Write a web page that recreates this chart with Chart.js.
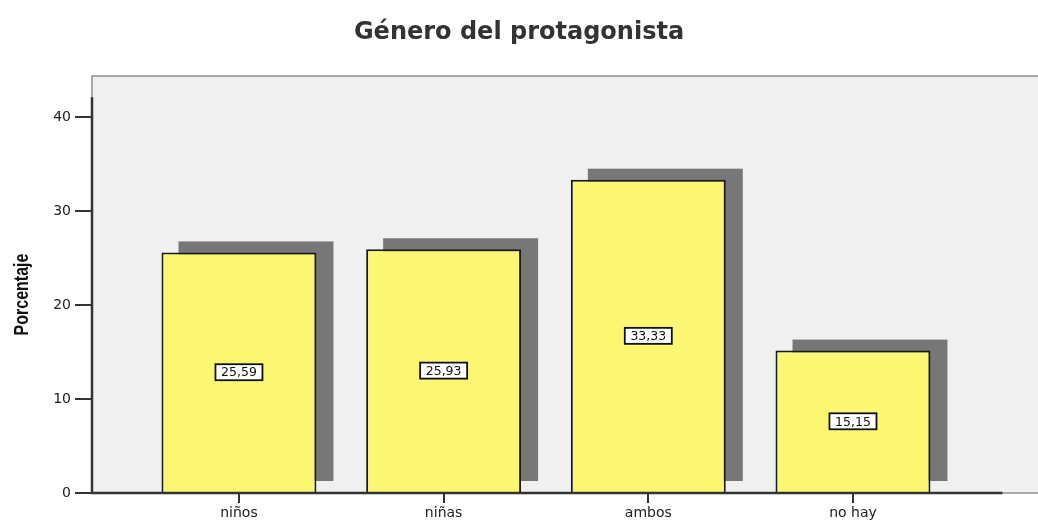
<!DOCTYPE html>
<html>
<head>
<meta charset="utf-8">
<script src="https://cdn.jsdelivr.net/npm/chart.js@4"></script>
<style>
    html, body { margin: 0; padding: 0; background: #fff; }
    #wrap { width: 1038px; height: 520px; }
</style>
</head>
<body>
<div id="wrap"><canvas id="myChart" width="1038" height="520"></canvas></div>
<script>
const categories = ['niños', 'niñas', 'ambos', 'no hay'];
const porcentajes = [25.59, 25.93, 33.33, 15.15];
const yTicks = [0, 10, 20, 30, 40];
const yTitle = 'Porcentaje';

const ctx = document.getElementById('myChart').getContext('2d');

// plot frame, bar shadows, axes and value boxes
const decor = {
    id: 'decor',
    beforeDatasetsDraw(chart) {
        const c = chart.ctx;
        const area = chart.chartArea;
        c.save();
        c.fillStyle = '#f0f0f0';
        c.fillRect(area.left, area.top, area.right - area.left, area.bottom - area.top);
        // shadow behind every bar, offset up and right
        const meta = chart.getDatasetMeta(0);
        c.fillStyle = '#777777';
        meta.data.forEach(bar => {
            const w = bar.width;
            c.fillRect(bar.x - w / 2 + 17, bar.y - 11, w, bar.base - bar.y);
        });
        c.restore();
    },
    afterDatasetsDraw(chart) {
        const c = chart.ctx;
        const area = chart.chartArea;
        const x = chart.scales.x;
        const y = chart.scales.y;
        c.save();
        c.lineCap = 'butt';
        // light frame
        c.strokeStyle = '#aaaaaa';
        c.lineWidth = 2;
        c.beginPath();
        c.moveTo(area.left, area.bottom);
        c.lineTo(area.left, area.top);
        c.lineTo(area.right, area.top);
        c.moveTo(area.left, area.bottom);
        c.lineTo(area.right, area.bottom);
        c.stroke();
        // dark axis lines
        c.strokeStyle = '#333333';
        c.lineWidth = 2.5;
        c.beginPath();
        c.moveTo(area.left, y.getPixelForValue(42.1));
        c.lineTo(area.left, area.bottom);
        c.lineTo(x.getPixelForValue(3.73), area.bottom);
        c.stroke();

        // value boxes
        const meta = chart.getDatasetMeta(0);
        c.font = '12.5px "DejaVu Sans"';
        c.textAlign = 'center';
        c.textBaseline = 'middle';
        meta.data.forEach((bar, i) => {
            const txt = porcentajes[i].toFixed(2).replace('.', ',');
            const cy = (bar.y + bar.base) / 2;
            const bw = 47, bh = 16;
            c.fillStyle = '#ffffff';
            c.fillRect(bar.x - bw / 2, cy - bh / 2, bw, bh);
            c.strokeStyle = '#111111';
            c.lineWidth = 1.8;
            c.strokeRect(bar.x - bw / 2, cy - bh / 2, bw, bh);
            c.fillStyle = '#111111';
            c.fillText(txt, bar.x, cy + 1);
        });
        c.restore();
    },
    afterDraw(chart) {
        // condensed bold y-axis title
        const c = chart.ctx;
        const area = chart.chartArea;
        c.save();
        c.translate(22.5, (area.top + area.bottom) / 2 + 10);
        c.rotate(-Math.PI / 2);
        c.scale(0.8, 1);
        c.font = 'bold 20px "Liberation Sans"';
        c.fillStyle = '#111111';
        c.textAlign = 'center';
        c.textBaseline = 'middle';
        c.fillText(yTitle, 0, 0);
        c.restore();
    }
};

const myChart = new Chart(ctx, {
    type: 'bar',
    data: {
        datasets: [{
            label: yTitle,
            data: porcentajes.map((v, i) => ({x: i, y: v})),
            backgroundColor: '#fbf773',
            borderColor: '#1a1a1a',
            borderWidth: 2,
            barPercentage: 0.757,
            categoryPercentage: 1
        }]
    },
    options: {
        responsive: false,
        animation: false,
        layout: {padding: 0},
        plugins: {
            legend: {display: false},
            tooltip: {enabled: false},
            title: {
                display: true,
                text: 'Género del protagonista',
                color: '#333333',
                font: {family: '"DejaVu Sans"', size: 24, weight: 'bold', lineHeight: 1.2},
                padding: {top: 18, bottom: 29.2}
            }
        },
        scales: {
            x: {
                type: 'linear',
                offset: false,
                min: -0.718,
                max: 3.904,
                afterBuildTicks: (scale) => {
                    scale.ticks = categories.map((c, i) => ({value: i}));
                },
                afterFit: (scale) => { scale.height = 27; },
                ticks: {
                    color: '#222222',
                    font: {family: '"DejaVu Sans"', size: 14},
                    padding: 2,
                    maxRotation: 0,
                    autoSkip: false,
                    callback: (value) => categories[value]
                },
                grid: {
                    offset: false,
                    drawOnChartArea: false,
                    color: '#333333',
                    lineWidth: 2,
                    tickLength: 10
                },
                border: {display: false}
            },
            y: {
                min: 0,
                max: 44.36,
                afterBuildTicks: (scale) => {
                    scale.ticks = yTicks.map(v => ({value: v}));
                },
                afterFit: (scale) => { scale.width = 92; },
                ticks: {
                    color: '#222222',
                    font: {family: '"DejaVu Sans"', size: 14},
                    padding: 4
                },
                grid: {
                    drawOnChartArea: false,
                    color: '#333333',
                    lineWidth: 2,
                    tickLength: 17
                },
                border: {display: false}
            }
        }
    },
    plugins: [decor]
});
</script>
</body>
</html>
